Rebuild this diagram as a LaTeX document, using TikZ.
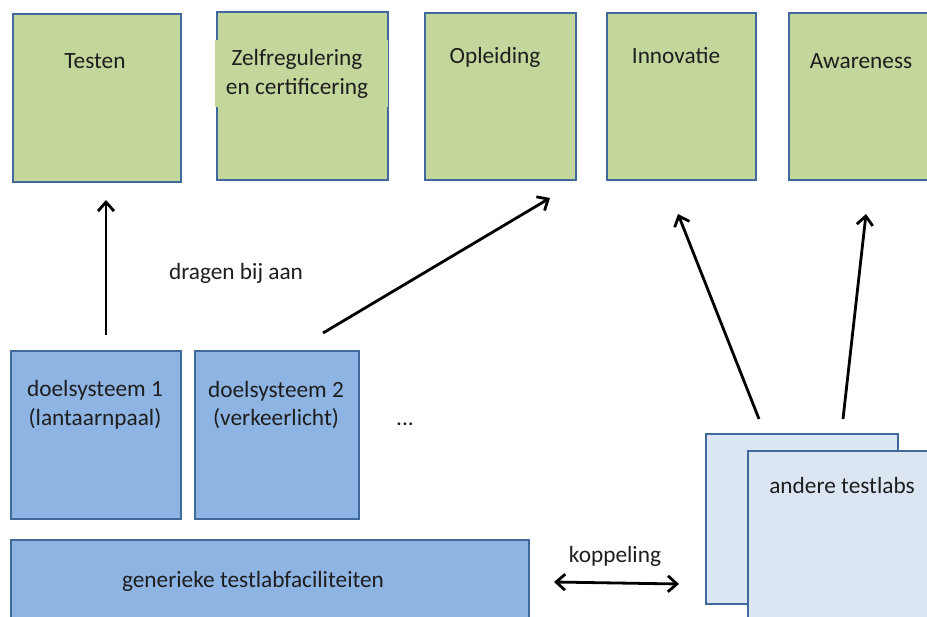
\documentclass[tikz,border=0pt]{standalone}
\usepackage{fontspec}
\setmainfont{Carlito}
\usetikzlibrary{arrows.meta,calc}
\definecolor{greenc}{RGB}{195,214,155}
\definecolor{bluec}{RGB}{142,180,227}
\definecolor{lightc}{RGB}{220,230,242}
\definecolor{bordc}{RGB}{65,105,155}
\definecolor{txtc}{RGB}{30,30,30}
\begin{document}
\begin{tikzpicture}[x=1pt,y=-1pt,
  box/.style={rectangle, draw=bordc, line width=2pt, inner sep=0pt, anchor=north west},
  greenbox/.style={box, fill=greenc},
  bluebox/.style={box, fill=bluec},
  lightbox/.style={box, fill=lightc},
  lbl/.style={text=txtc, font=\fontsize{23.3}{28.5}\selectfont, align=center, inner sep=0pt},
  arr/.style={line width=2.8pt, -{Straight Barb[length=9pt,width=16pt]}},
  darr/.style={line width=2.8pt, {Straight Barb[length=9pt,width=16pt]}-{Straight Barb[length=9pt,width=16pt]}}
]
\useasboundingbox (0,0) rectangle (927,617);
\clip (0,0) rectangle (927,617);
\fill[white] (0,0) rectangle (927,617);
% top boxes
\node[greenbox, minimum width=168, minimum height=168] (testen) at (12,13) {};
\node[greenbox, minimum width=171, minimum height=168] (zelf) at (216,11) {};
\fill[greenc] (214.6,40) rectangle (388.4,107);
\node[greenbox, minimum width=151, minimum height=167] (opl) at (424,12) {};
\node[greenbox, minimum width=149, minimum height=167] (innov) at (606,12) {};
\node[greenbox, minimum width=160, minimum height=167] (aware) at (788,12) {};
\node[lbl] (testenT) at (95,61) {Testen};
\node[lbl] (zelfT) at (297,74) {Zelfregulering\\en certificering};
\node[lbl] (oplT) at (495,57) {Opleiding};
\node[lbl] (innovT) at (676,56) {Innovatie};
\node[lbl] (awareT) at (861,61) {Awareness};
% bottom boxes
\node[bluebox, minimum width=170, minimum height=168] (ds1) at (10,350) {};
\node[bluebox, minimum width=164, minimum height=168] (ds2) at (194,350) {};
\node[bluebox, minimum width=518, minimum height=100] (gen) at (10,539) {};
\node[lbl] (ds1T) at (95,405) {doelsysteem 1\\(lantaarnpaal)};
\node[lbl] (ds2T) at (276,405) {doelsysteem 2\\(verkeerlicht)};
\node[lbl] (dots) at (405,424) {...};
\node[lbl] (genT) at (253,581) {generieke testlabfaciliteiten};
% other testlabs
\node[lightbox, minimum width=192, minimum height=170] (labsback) at (705,433) {};
\node[lightbox, minimum width=200, minimum height=190] (labs) at (747,450) {};
\node[lbl] (labsT) at (842,485) {andere testlabs};
% labels
\node[lbl] (dragen) at (236,273) {dragen bij aan};
\node[lbl] (kopT) at (615,556) {koppeling};
% arrow end points
\coordinate (a1s) at ($(ds1.north west)+(96,-15)$);
\coordinate (a1e) at ($(testen.south west)+(94,17)$);
\coordinate (a2s) at ($(ds2.north west)+(129,-17)$);
\coordinate (a2e) at ($(opl.south west)+(126,17)$);
\coordinate (a3s) at ($(labsback.north west)+(54,-14)$);
\coordinate (a3e) at ($(innov.south west)+(72,33)$);
\coordinate (a4s) at ($(labsback.north west)+(138,-14)$);
\coordinate (a4e) at ($(aware.south west)+(78,33)$);
\coordinate (k1) at ($(gen.north east)+(24,43)$);
\coordinate (k2) at ($(labsback.south west)+(-26,-21)$);
\draw[arr] (a1s) -- (a1e);
\draw[arr] (a2s) -- (a2e);
\draw[arr] (a3s) -- (a3e);
\draw[arr] (a4s) -- (a4e);
\draw[darr] (k1) -- (k2);
\end{tikzpicture}
\end{document}
